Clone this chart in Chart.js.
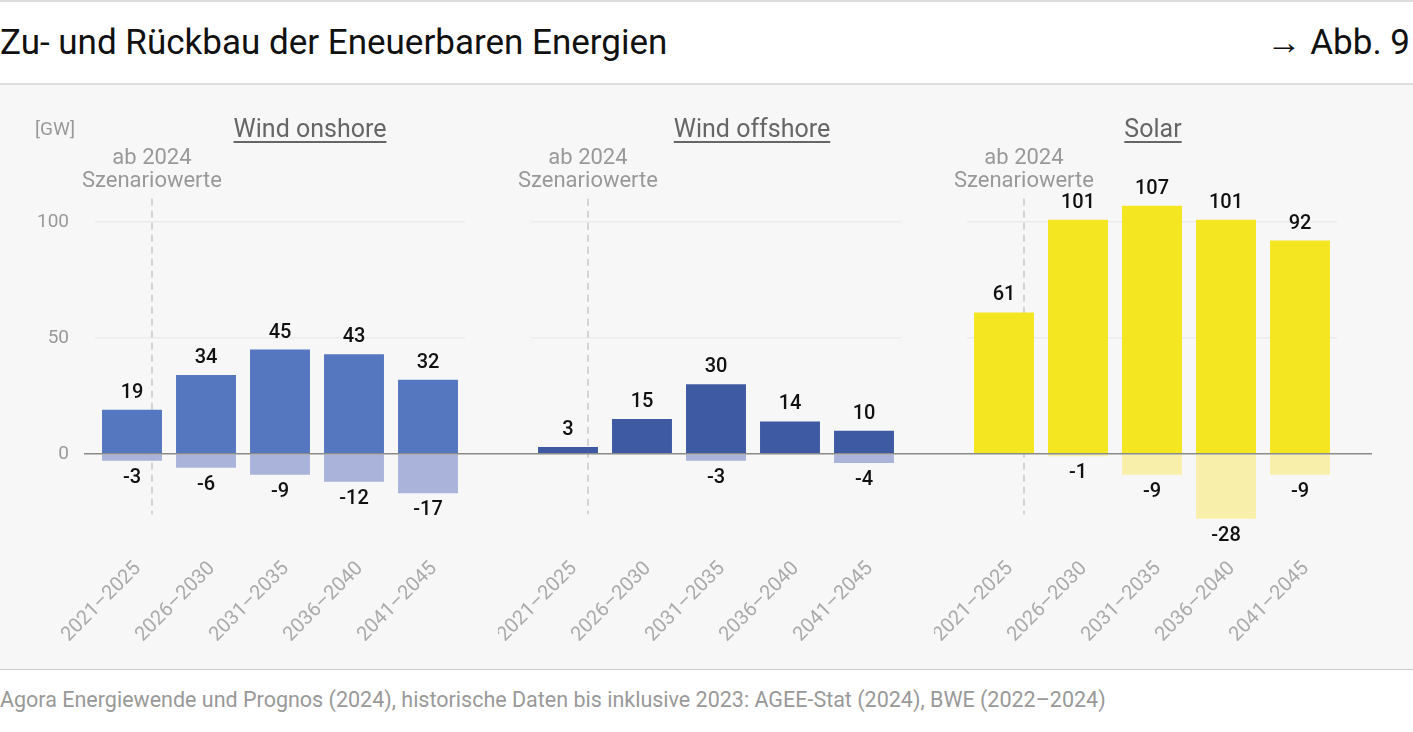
<!DOCTYPE html>
<html lang="de">
<head>
<meta charset="utf-8">
<title>Zu- und Rückbau der Eneuerbaren Energien</title>
<script src="https://cdn.jsdelivr.net/npm/chart.js@4.4.1/dist/chart.umd.min.js"></script>
<style>
  body { margin: 0; width: 1413px; height: 732px; background: #fff; font-family: Roboto, sans-serif; position: relative; overflow: hidden; }
  .head { position: absolute; left: 0; top: 0; width: 1413px; height: 85px; border-top: 2px solid #ddd; border-bottom: 2px solid #ddd; box-sizing: border-box; }
  .head h1 { position: absolute; left: 0; top: 20px; margin: 0; font-size: 35px; font-weight: 400; line-height: 42px; color: #111; }
  .head .ref { position: absolute; right: 3px; top: 20px; font-size: 35px; line-height: 42px; color: #111; }
  .plot { position: absolute; left: 0; top: 85px; width: 1413px; height: 585px; background: #f7f7f7; border-bottom: 1.5px solid #ccc; box-sizing: border-box; }
  .wrap { position: absolute; top: 85px; height: 585px; }
  .unit { position: absolute; left: 35px; top: 117px; font-size: 19px; line-height: 24px; color: #999; }
  .ptitle { position: absolute; top: 114px; font-size: 25px; line-height: 30px; color: #666; text-decoration: underline; text-underline-offset: 4px; text-decoration-thickness: 1.5px; transform: translateX(-50%); white-space: nowrap; }
  .source { position: absolute; left: 0; top: 686px; font-size: 21.5px; line-height: 28px; color: #999; white-space: nowrap; }
</style>
</head>
<body>
<div class="head">
  <h1>Zu- und Rückbau der Eneuerbaren Energien</h1>
  <div class="ref">→ Abb. 9</div>
</div>
<div class="plot"></div>
<div class="wrap" style="left:0;width:498px"><canvas id="onshore"></canvas></div>
<div class="wrap" style="left:498px;width:436px"><canvas id="offshore"></canvas></div>
<div class="wrap" style="left:934px;width:479px"><canvas id="solar"></canvas></div>
<div class="unit">[GW]</div>
<div class="ptitle" style="left:310px">Wind onshore</div>
<div class="ptitle" style="left:752px">Wind offshore</div>
<div class="ptitle" style="left:1153px">Solar</div>
<div class="source">Agora Energiewende und Prognos (2024), historische Daten bis inklusive 2023: AGEE-Stat (2024), BWE (2022–2024)</div>

<script>
  const categories = ["2021–2025", "2026–2030", "2031–2035", "2036–2040", "2041–2045"];
  const yTicks = [0, 50, 100];

  const onshoreZubau = [19, 34, 45, 43, 32];
  const onshoreRueckbau = [-3, -6, -9, -12, -17];
  const offshoreZubau = [3, 15, 30, 14, 10];
  const offshoreRueckbau = [null, null, -3, null, -4];
  const solarZubau = [61, 101, 107, 101, 92];
  const solarRueckbau = [null, -1, -9, -28, -9];

  Chart.defaults.font.family = "Roboto, sans-serif";

  // dashed "ab 2024" marker, zero line and value labels
  const panelPlugin = {
    id: "panel",
    beforeDatasetsDraw(chart) {
      const { ctx } = chart;
      const x = chart.scales.x, y = chart.scales.y;
      const p0 = x.getPixelForValue(0), p1 = x.getPixelForValue(1);
      const lx = p0 + 0.27 * (p1 - p0);
      ctx.save();
      ctx.strokeStyle = "#c9c9c9";
      ctx.lineWidth = 1.5;
      ctx.setLineDash([7, 5]);
      ctx.beginPath();
      ctx.moveTo(lx, y.getPixelForValue(110));
      ctx.lineTo(lx, y.getPixelForValue(-26));
      ctx.stroke();
      ctx.setLineDash([]);
      ctx.fillStyle = "#999";
      ctx.font = "22px Roboto, sans-serif";
      ctx.textAlign = "center";
      ctx.textBaseline = "middle";
      ctx.fillText("ab 2024", lx, 73);
      ctx.fillText("Szenariowerte", lx, 96);
      ctx.restore();
    },
    afterDatasetsDraw(chart, args, opts) {
      const { ctx } = chart;
      const y0 = chart.scales.y.getPixelForValue(0);
      ctx.save();
      ctx.strokeStyle = "#8a8a8a";
      ctx.lineWidth = 1.5;
      ctx.beginPath();
      ctx.moveTo(opts.lineFrom, y0);
      ctx.lineTo(opts.lineTo, y0);
      ctx.stroke();

      ctx.fillStyle = "#111";
      ctx.font = "500 20px Roboto, sans-serif";
      ctx.textAlign = "center";
      ctx.textBaseline = "middle";
      chart.data.datasets.forEach((ds, i) => {
        chart.getDatasetMeta(i).data.forEach((bar, j) => {
          const v = ds.data[j];
          if (v === null || v === 0) return;
          ctx.fillText(String(v), bar.x, v > 0 ? bar.y - 17 : bar.y + 17);
        });
      });
      ctx.restore();
    }
  };

  function makeChart(id, zubau, rueckbau, colors, cfg) {
    return new Chart(document.getElementById(id), {
      type: "bar",
      data: {
        labels: categories,
        datasets: [
          { label: "Zubau", data: zubau, backgroundColor: colors[0] },
          { label: "Rückbau", data: rueckbau, backgroundColor: colors[1] }
        ]
      },
      options: {
        responsive: true,
        maintainAspectRatio: false,
        animation: false,
        barPercentage: 0.81,
        categoryPercentage: 1,
        layout: { padding: cfg.padding },
        plugins: {
          legend: { display: false },
          tooltip: { enabled: false },
          panel: { lineFrom: cfg.lineFrom, lineTo: cfg.lineTo }
        },
        scales: {
          x: {
            stacked: true,
            grid: { display: false },
            border: { display: false },
            ticks: { color: "#aaa", font: { size: 20 }, minRotation: 45, maxRotation: 45, autoSkip: false, padding: 14, labelOffset: 6 },
            afterFit: a => { a.height = 135; a.paddingLeft = 0; a.paddingRight = 0; }
          },
          y: {
            stacked: true,
            min: -35,
            max: 125,
            border: { display: false },
            grid: {
              drawTicks: false,
              lineWidth: 1.5,
              color: c => (c.tick && c.tick.value === 0 ? "rgba(0,0,0,0)" : "#ececec")
            },
            ticks: { display: cfg.showY, color: "#999", font: { size: 19 }, padding: 26 },
            afterBuildTicks: a => { a.ticks = yTicks.map(v => ({ value: v })); },
            afterFit: a => { a.width = cfg.yWidth; }
          }
        }
      },
      plugins: [panelPlugin]
    });
  }

  makeChart("onshore", onshoreZubau, onshoreRueckbau, ["#5577bf", "#aab3da"],
    { padding: { top: 79, right: 33, left: 0, bottom: 0 }, showY: true, yWidth: 95, lineFrom: 84, lineTo: 498 });
  makeChart("offshore", offshoreZubau, offshoreRueckbau, ["#3e5aa2", "#aab3da"],
    { padding: { top: 79, right: 33, left: 33, bottom: 0 }, showY: false, yWidth: 0, lineFrom: 0, lineTo: 436 });
  makeChart("solar", solarZubau, solarRueckbau, ["#f4e620", "#f8f0aa"],
    { padding: { top: 79, right: 76, left: 33, bottom: 0 }, showY: false, yWidth: 0, lineFrom: 0, lineTo: 438 });
</script>
</body>
</html>
